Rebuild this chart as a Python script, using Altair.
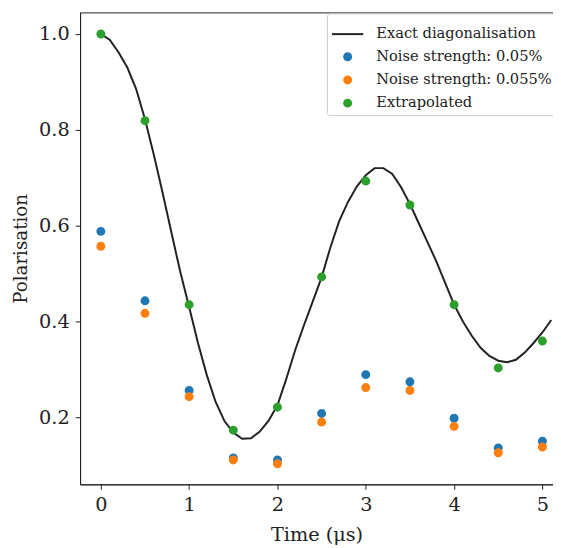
import altair as alt
import pandas as pd

# Exact diagonalisation curve (sampled every 0.1 us)
t_exact = [round(0.1 * i, 1) for i in range(52)]
p_exact = [1.000, 0.988, 0.962, 0.930, 0.885, 0.822, 0.748, 0.668, 0.585, 0.503,
           0.430, 0.355, 0.288, 0.232, 0.192, 0.168, 0.155, 0.156, 0.170, 0.193,
           0.225, 0.280, 0.340, 0.392, 0.442, 0.492, 0.555, 0.610, 0.650, 0.682,
           0.705, 0.720, 0.720, 0.708, 0.680, 0.645, 0.605, 0.565, 0.525, 0.480,
           0.435, 0.400, 0.370, 0.345, 0.328, 0.318, 0.315, 0.320, 0.335, 0.355,
           0.377, 0.403]

t_points = [0.0, 0.5, 1.0, 1.5, 2.0, 2.5, 3.0, 3.5, 4.0, 4.5, 5.0]
p_noise_005 = [0.588, 0.443, 0.256, 0.115, 0.111, 0.208, 0.289, 0.274, 0.198, 0.136, 0.150]
p_noise_0055 = [0.557, 0.417, 0.243, 0.111, 0.103, 0.190, 0.262, 0.256, 0.181, 0.126, 0.138]
p_extrap = [1.000, 0.819, 0.435, 0.173, 0.221, 0.493, 0.693, 0.643, 0.435, 0.303, 0.359]

labels = ["Exact diagonalisation", "Noise strength: 0.05%",
          "Noise strength: 0.055%", "Extrapolated"]
colors = ["#222222", "#1f77b4", "#ff7f0e", "#2ca02c"]
shapes = ["stroke", "circle", "circle", "circle"]
sizes = [1000, 50, 50, 50]

line_df = pd.DataFrame({"t": t_exact, "p": p_exact, "series": labels[0]})
pts = []
for lab, vals in zip(labels[1:], [p_noise_005, p_noise_0055, p_extrap]):
    for t, v in zip(t_points, vals):
        pts.append({"t": t, "p": v, "series": lab})
pts_df = pd.DataFrame(pts)

FONT = "DejaVu Serif"
xs = alt.Scale(domain=[-0.235, 5.12], nice=False, zero=False)
ys = alt.Scale(domain=[0.06, 1.045], nice=False, zero=False)
cs = alt.Scale(domain=labels, range=colors)
ss = alt.Scale(domain=labels, range=shapes)
zs = alt.Scale(type="ordinal", domain=labels, range=sizes)

legend = alt.Legend(title=None, orient="none", legendX=250, legendY=1,
                    fillColor="white", strokeColor="#cccccc", cornerRadius=3,
                    padding=4, labelFont=FONT, labelFontSize=14.8, labelColor="#222",
                    rowPadding=7.5, labelLimit=400, labelOffset=12,
                    symbolStrokeWidth=2)

xax = alt.Axis(values=[0, 1, 2, 3, 4, 5], format="d", grid=False, title="Time (μs)",
               titleFontSize=19.5, titlePadding=12)
yax = alt.Axis(values=[0.2, 0.4, 0.6, 0.8, 1.0], format=".1f", grid=False, title="Polarisation",
               titleFontSize=18.5, titlePadding=8)

line = alt.Chart(line_df).mark_line(strokeWidth=2).encode(
    x=alt.X("t:Q", scale=xs, axis=xax),
    y=alt.Y("p:Q", scale=ys, axis=yax),
    color=alt.Color("series:N", scale=cs, legend=legend),
)

points = alt.Chart(pts_df).mark_point(filled=True, opacity=1, strokeWidth=2).encode(
    x=alt.X("t:Q", scale=xs),
    y=alt.Y("p:Q", scale=ys),
    color=alt.Color("series:N", scale=cs, legend=legend),
    stroke=alt.Stroke("series:N", scale=cs, legend=legend),
    shape=alt.Shape("series:N", scale=ss, legend=legend),
    size=alt.Size("series:N", scale=zs, legend=legend),
)

chart = alt.layer(line, points).properties(
    width=479, height=478,
    autosize=alt.AutoSizeParams(type="none"),
    padding={"left": 73, "top": 1, "right": 0, "bottom": 60},
).configure_view(stroke="#222", strokeWidth=1).configure_axis(
    labelFont=FONT, titleFont=FONT, labelFontSize=19.5,
    labelColor="#222", titleColor="#222", domainColor="#222", tickColor="#222",
    tickSize=5, labelPadding=6, titleFontWeight="normal", domainWidth=1,
)

chart.save("out.html", embed_options={"renderer": "svg", "actions": False})
